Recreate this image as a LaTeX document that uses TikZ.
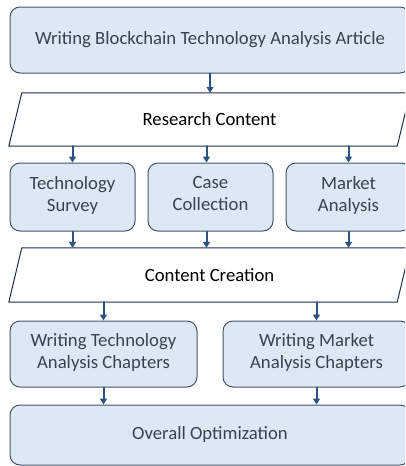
\documentclass[tikz,border=0pt]{standalone}
\usepackage{fontspec}
\setmainfont{Carlito}
\usetikzlibrary{arrows.meta}
\definecolor{boxfill}{HTML}{DEE8F4}
\definecolor{boxline}{HTML}{44546A}
\definecolor{paraline}{HTML}{1F2D4A}
\definecolor{arrowblue}{HTML}{2C5282}
\definecolor{boxtext}{HTML}{3A424E}

\begin{document}
\begin{tikzpicture}[x=1pt,y=-1pt,line cap=round,line join=round,
  box/.style={draw=boxline,fill=boxfill,line width=1pt,rounded corners=10pt,
    text=boxtext,align=center,inner sep=0pt,font=\fontsize{18.7}{22}\selectfont,
    execute at begin node=\strut,execute at end node=\strut},
  para/.style={minimum width=401pt,inner sep=0pt,font=\fontsize{18.7}{22}\selectfont},
  paraedge/.style={draw=paraline,line width=1pt},
  arr/.style={-{Triangle[width=7pt,length=6pt]},draw=arrowblue,line width=2pt}]
\path[use as bounding box] (0,0) rectangle (405,466);
\clip (0,0) rectangle (405,466);
% top title box
\node[box,minimum width=400pt,minimum height=66pt] (article) at (210,40) {Writing Blockchain Technology Analysis Article};
\node[para,minimum height=53pt] (research) at (209.5,119.5) {Research Content};
\draw[paraedge] (research.south west) -- ([xshift=13pt]research.north west) -- (research.north east) -- ([xshift=-13pt]research.south east) -- cycle;
% research tasks
\node[box,minimum width=125pt,minimum height=68pt] (survey) at (72.5,197) {Technology\\Survey};
\node[box,minimum width=125pt,minimum height=68pt] (cases) at (210.5,197) {Case\\Collection};
\node[box,minimum width=125pt,minimum height=68pt] (market) at (348.5,197) {Market\\Analysis};
\node[para,minimum height=54pt] (creation) at (209.5,275) {Content Creation};
\draw[paraedge] (creation.south west) -- ([xshift=13pt]creation.north west) -- (creation.north east) -- ([xshift=-13pt]creation.south east) -- cycle;
% chapters
\node[box,minimum width=187pt,minimum height=66pt] (techch) at (103.5,354) {Writing Technology\\Analysis Chapters};
\node[box,minimum width=187pt,minimum height=66pt] (marketch) at (316.5,354) {Writing Market\\Analysis Chapters};
\node[box,minimum width=400pt,minimum height=60pt] (optim) at (210,435) {Overall Optimization};
% arrows
\draw[arr] (article.south) -- (article.south |- research.north);
\draw[arr] (research.south -| survey.north) -- (survey.north);
\draw[arr] ([xshift=-4pt]research.south -| cases.north) -- ([xshift=-4pt]cases.north);
\draw[arr] (research.south -| market.north) -- (market.north);
\draw[arr] (survey.south) -- (survey.south |- creation.north);
\draw[arr] ([xshift=-4pt]cases.south) -- ([xshift=-4pt]cases.south |- creation.north);
\draw[arr] (market.south) -- (market.south |- creation.north);
\draw[arr] (creation.south -| techch.north) -- (techch.north);
\draw[arr] (creation.south -| marketch.north) -- (marketch.north);
\draw[arr] (techch.south) -- (techch.south |- optim.north);
\draw[arr] (marketch.south) -- (marketch.south |- optim.north);
\end{tikzpicture}
\end{document}
